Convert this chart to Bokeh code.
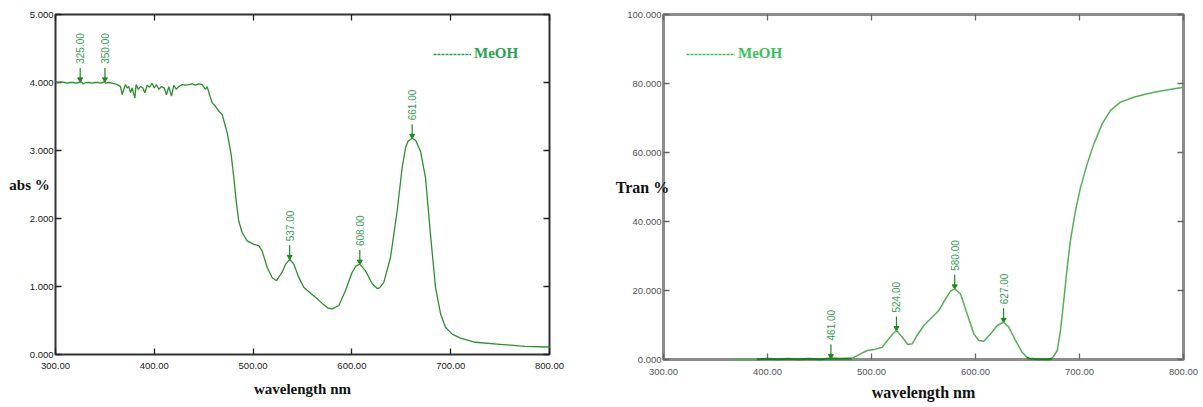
import math
from bokeh.plotting import figure
from bokeh.models import (LinearAxis, Range1d, FixedTicker, NumeralTickFormatter,
                          Legend, LegendItem)
from bokeh.layouts import row
from bokeh.embed import file_html
from bokeh.resources import INLINE
from bokeh.core.properties import value

# ---------------- data: absorbance spectrum (left) ----------------
abs_nm = [300, 303, 306, 309, 312, 315, 318, 321, 324, 326, 328, 331, 334, 337, 340,
          343, 346, 349, 351, 354, 357, 360, 362.4, 365.8, 367.5, 369.2, 370.9, 372.5,
          374.2, 375.9, 377.6, 380.3, 381.6, 383.7, 386.0, 388.4, 390.4, 392.8, 395.1,
          397.8, 399.9, 402.2, 404.6, 407.3, 410.0, 412.3, 414.7, 417.4, 419.8, 422.1,
          424.8, 428.2, 431.6, 435.0, 438.3, 441.7, 445.1, 448.4, 451.8, 453.5, 455.9,
          458.6, 461.9, 465.3, 468.7, 473.8, 477.8, 480.5, 482.9, 485.5, 489.0, 494.0,
          500.7, 505.8, 509.2, 514.3, 519.3, 523.7, 529.4, 533, 537, 541.2, 546.3, 551.3,
          558.1, 564.9, 571.6, 576, 580, 586.8, 593.5, 600.3, 604, 608, 613.8, 620.5,
          625.6, 628, 632.3, 639.1, 645.8, 650.9, 654.3, 657, 661, 664.4, 669.4, 674.5,
          679.5, 684.6, 689.7, 694.7, 701.5, 709.9, 725, 750, 775, 800]
abs_val = [4.01, 4.00, 4.01, 4.00, 3.99, 4.00, 4.00, 3.99, 4.00, 4.01, 3.98, 4.00, 4.00,
           3.99, 4.00, 4.00, 3.99, 4.01, 3.99, 4.00, 3.99, 3.98, 3.97, 3.94, 3.82, 3.90,
           3.97, 3.92, 3.94, 3.85, 3.92, 3.77, 3.97, 3.90, 3.94, 3.92, 3.85, 3.96, 3.93,
           3.99, 3.92, 3.97, 3.90, 3.94, 3.92, 3.82, 3.94, 3.80, 3.96, 3.90, 3.94, 3.97,
           3.96, 3.97, 3.98, 3.96, 3.98, 3.97, 3.90, 3.94, 3.82, 3.70, 3.65, 3.58, 3.53,
           3.26, 2.94, 2.60, 2.26, 1.96, 1.79, 1.67, 1.62, 1.60, 1.52, 1.28, 1.13, 1.085,
           1.21, 1.33, 1.40, 1.33, 1.13, 0.99, 0.90, 0.82, 0.73, 0.68, 0.67, 0.72, 0.94,
           1.21, 1.30, 1.33, 1.23, 1.04, 0.97, 0.98, 1.06, 1.43, 2.11, 2.75, 3.04, 3.14,
           3.18, 3.15, 2.99, 2.60, 1.77, 0.99, 0.60, 0.40, 0.30, 0.24, 0.18, 0.15, 0.12, 0.11]
abs_peak_nm = [325, 350, 537, 608, 661]
abs_peak_val = [4.01, 4.01, 1.40, 1.33, 3.18]
abs_peak_labels = ["325.00", "350.00", "537.00", "608.00", "661.00"]

# ---------------- data: transmittance spectrum (right) ----------------
tran_nm = [368, 372, 380, 390, 400, 410, 420, 430, 440, 450, 461, 470, 481, 489.4, 495.9,
           503.8, 510.3, 516.7, 521, 524, 529.5, 534.9, 539.1, 543.9, 550.3, 558.3, 564.7,
           571.2, 576, 580, 585.6, 592, 598.4, 603.2, 608, 614.4, 620.9, 627, 632, 638.5,
           644.9, 649.7, 651.3, 660, 670, 673.7, 678.6, 681.7, 684.9, 688.2, 691.3, 696.2,
           701, 707.4, 713.8, 721.8, 729.8, 739.4, 752.2, 765.1, 777.9, 797.1, 800]
tran_val = [0.3, 0.1, 0.2, 0.1, 0.2, 0.1, 0.2, 0.1, 0.2, 0.1, 0.3, 0.2, 0.3, 1.64, 2.61,
            3.0, 3.57, 6.0, 7.6, 8.4, 6.5, 4.35, 4.54, 6.96, 9.86, 12.27, 14.2, 17.6, 19.8,
            20.5, 19.0, 13.2, 7.4, 5.5, 5.3, 7.4, 9.86, 10.8, 9.4, 5.5, 2.1, 0.6, 0.3, 0.1,
            0.1, 0.3, 2.6, 8.4, 17.1, 26.8, 34.5, 43.2, 49.9, 56.7, 62.5, 68.3, 72.2, 74.6,
            76.0, 77.0, 77.8, 78.8, 78.9]
tran_peak_nm = [461, 524, 580, 627]
tran_peak_val = [0.3, 8.4, 20.5, 10.8]
tran_peak_labels = ["461.00", "524.00", "580.00", "627.00"]

x_ticks = [300, 400, 500, 600, 700, 800]
abs_ticks = [0, 1, 2, 3, 4, 5]
tran_ticks = [0, 20, 40, 60, 80, 100]
series_name = "MeOH"
x_title = "wavelength nm"
abs_title = "abs %"
tran_title = "Tran %"


def panel(width, height, borders, y_end, y_ticks, nm, vals, pk_nm, pk_val, pk_lab,
          line_color, line_width, frame_color, frame_width, tick_color, label_color,
          legend_color, legend_loc, glyph_w, ytitle, ytitle_size, ytitle_standoff,
          xtitle_size, xlab_standoff, xtitle_standoff, arrow_len, head_off):
    left, right, top, bottom = borders
    p = figure(width=width, height=height, output_backend="svg", toolbar_location=None,
               x_range=Range1d(300, 800), y_range=Range1d(0, y_end),
               min_border_left=left, min_border_right=right,
               min_border_top=top, min_border_bottom=bottom,
               x_axis_location=None, y_axis_location=None)
    p.grid.visible = False
    p.outline_line_color = frame_color
    p.outline_line_width = frame_width
    p.background_fill_color = "white"
    p.border_fill_color = "white"

    def style(ax, ticks, fmt, show):
        ax.ticker = FixedTicker(ticks=ticks)
        ax.axis_line_color = None
        ax.major_tick_in = 6
        ax.major_tick_out = 0
        ax.minor_tick_line_color = None
        ax.major_tick_line_color = tick_color
        ax.major_tick_line_width = 1.3
        if show:
            ax.formatter = NumeralTickFormatter(format=fmt)
            ax.major_label_text_font = "Liberation Sans"
            ax.major_label_text_font_size = "9.5px"
            ax.major_label_text_color = label_color
        else:
            ax.major_label_overrides = {t: "" for t in ticks}
            ax.major_label_text_font_size = "1px"
            ax.major_label_standoff = 0

    xb = LinearAxis()
    style(xb, x_ticks, "0.00", True)
    xb.major_label_standoff = xlab_standoff
    xb.axis_label = x_title
    xb.axis_label_text_font = "Liberation Serif"
    xb.axis_label_text_font_style = "bold"
    xb.axis_label_text_font_size = xtitle_size
    xb.axis_label_text_color = "#111111"
    xb.axis_label_standoff = xtitle_standoff
    p.add_layout(xb, "below")

    yl = LinearAxis()
    style(yl, y_ticks, "0.000", True)
    yl.major_label_standoff = 2
    yl.axis_label = ytitle
    yl.axis_label_orientation = "horizontal"
    yl.axis_label_text_font = "Liberation Serif"
    yl.axis_label_text_font_style = "bold"
    yl.axis_label_text_font_size = ytitle_size
    yl.axis_label_text_color = "#111111"
    yl.axis_label_standoff = ytitle_standoff
    p.add_layout(yl, "left")

    xt = LinearAxis()
    style(xt, x_ticks, "", False)
    p.add_layout(xt, "above")
    yr = LinearAxis()
    style(yr, y_ticks, "", False)
    p.add_layout(yr, "right")

    r = p.line(nm, vals, line_color=line_color, line_width=line_width)
    r.level = "overlay"

    # peak markers
    p.segment(x0=pk_nm, y0=[v + arrow_len for v in pk_val], x1=pk_nm, y1=pk_val,
              line_color="#1f8a1f", line_width=1.2)
    p.scatter(x=pk_nm, y=[v + head_off for v in pk_val], marker="inverted_triangle",
              size=5, fill_color="#1f8a1f", line_color="#1f8a1f")
    p.text(x=pk_nm, y=pk_val, text=pk_lab, angle=math.pi / 2, y_offset=-18,
           text_align="left", text_baseline="middle", text_font=value("Liberation Sans"),
           text_font_size="10px", text_color="#3a9a5a")

    # legend (dashed sample line, no visible data of its own)
    dummy = p.line(x=[nm[0]], y=[float("nan")], line_color=legend_color, line_width=1.4,
                   line_dash="3 1")
    lg = Legend(items=[LegendItem(label=series_name, renderers=[dummy])],
                location=legend_loc, padding=0, margin=0, spacing=0,
                border_line_color=None, background_fill_alpha=0,
                glyph_width=glyph_w, glyph_height=16, label_height=16, label_standoff=3,
                label_text_font="Liberation Serif", label_text_font_style="bold",
                label_text_font_size="15px", label_text_color=legend_color)
    p.add_layout(lg)
    return p, r


p1, _ = panel(600, 402, (55, 51, 14, 48), 5, abs_ticks, abs_nm, abs_val, abs_peak_nm,
              abs_peak_val, abs_peak_labels, "#2f8f2f", 1.3, "#333333", 2, "#222222",
              "#1a1a1a", "#2aa052", (378, 292), 38, abs_title, "15px", -23, "15px", 8, 9,
              0.205, 0.037)
p2, _ = panel(603, 407, (63, 20, 14, 48), 100, tran_ticks, tran_nm, tran_val, tran_peak_nm,
              tran_peak_val, tran_peak_labels, "#55b055", 1.5, "#8c8c8c", 3, "#666666",
              "#555555", "#3cbf5a", (23, 297), 49, tran_title, "16px", -45, "16px", 9, 6,
              4.06, 0.72)

# baseline stretches of the transmittance trace drawn darker, as in the instrument print
for lo, hi in [(390, 481), (649, 674)]:
    seg_x = [x for x, v in zip(tran_nm, tran_val) if lo <= x <= hi]
    seg_y = [v for x, v in zip(tran_nm, tran_val) if lo <= x <= hi]
    rr = p2.line(seg_x, seg_y, line_color="#1e7d1e", line_width=2)
    rr.level = "overlay"

layout = row(p1, p2)
open("out.html", "w").write(file_html(layout, INLINE))
